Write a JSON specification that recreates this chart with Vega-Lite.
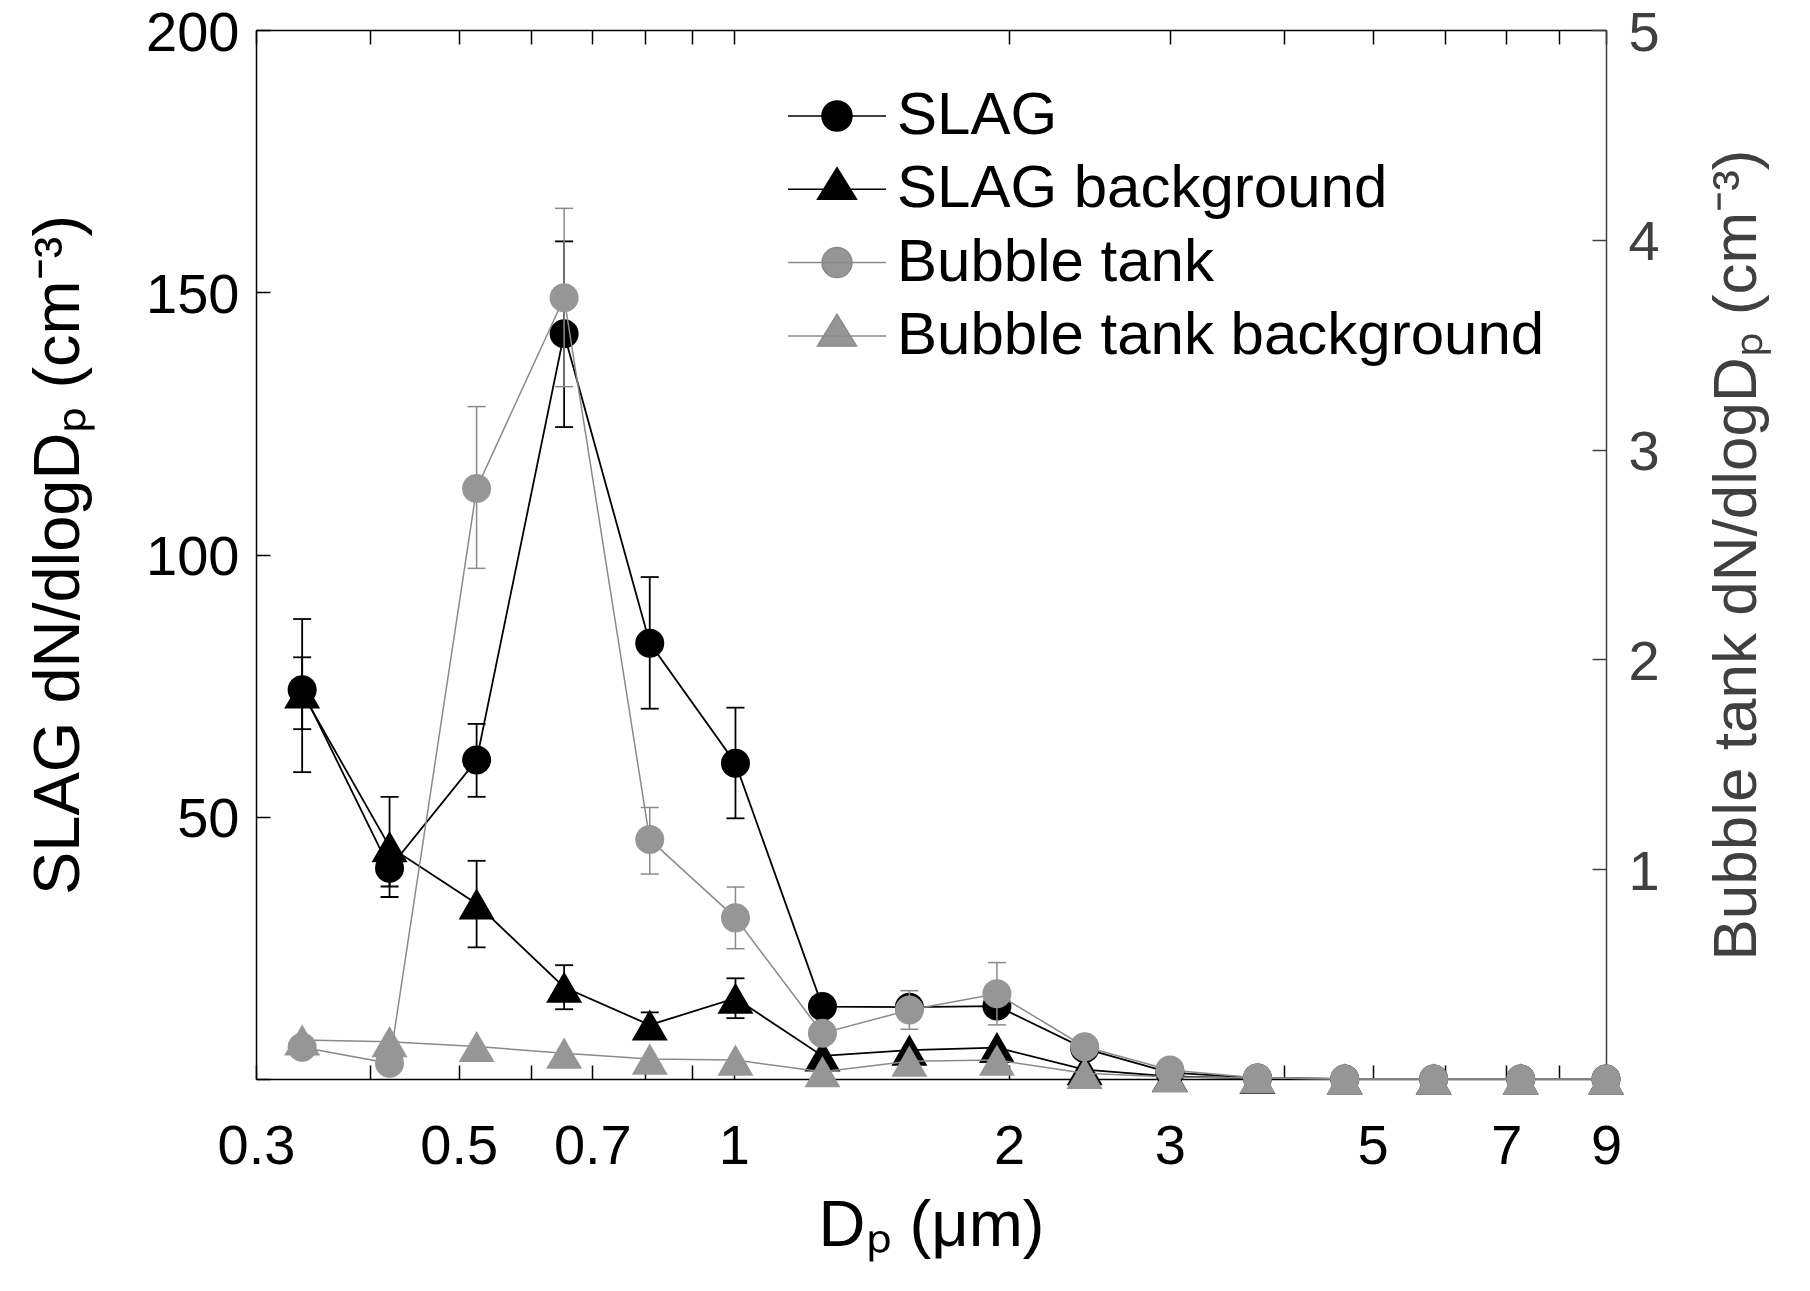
{
  "$schema": "https://vega.github.io/schema/vega-lite/v6.json",
  "width": 1350,
  "height": 1049,
  "autosize": {"type": "none"},
  "padding": {"left": 256, "top": 30, "right": 204, "bottom": 212},
  "background": "white",
  "config": {
    "view": {"stroke": null},
    "font": "Liberation Sans",
    "axis": {"labelFont": "Liberation Sans", "titleFont": "Liberation Sans", "grid": false}
  },
  "data": {
    "values": [
      {"s": "SLAG", "x": 0.337, "v": 74.2, "lo": 58.5, "hi": 87.7},
      {"s": "SLAG", "x": 0.42, "v": 40.2, "lo": 36.7, "hi": 43.7},
      {"s": "SLAG", "x": 0.523, "v": 60.8, "lo": 53.8, "hi": 67.7},
      {"s": "SLAG", "x": 0.652, "v": 142.1, "lo": 124.3, "hi": 159.7},
      {"s": "SLAG", "x": 0.809, "v": 83.1, "lo": 70.6, "hi": 95.7},
      {"s": "SLAG", "x": 1.004, "v": 60.2, "lo": 49.7, "hi": 70.8},
      {"s": "SLAG", "x": 1.25, "v": 13.8},
      {"s": "SLAG", "x": 1.556, "v": 13.7},
      {"s": "SLAG", "x": 1.94, "v": 13.9},
      {"s": "SLAG", "x": 2.42, "v": 5.8},
      {"s": "SLAG", "x": 3.0, "v": 1.2},
      {"s": "SLAG", "x": 3.74, "v": 0.2},
      {"s": "SLAG", "x": 4.66, "v": 0},
      {"s": "SLAG", "x": 5.83, "v": 0},
      {"s": "SLAG", "x": 7.26, "v": 0},
      {"s": "SLAG", "x": 9.0, "v": 0},
      {"s": "SLAG background", "x": 0.337, "v": 73.6, "lo": 66.7, "hi": 80.4},
      {"s": "SLAG background", "x": 0.42, "v": 44.3, "lo": 34.7, "hi": 53.8},
      {"s": "SLAG background", "x": 0.523, "v": 33.4, "lo": 25.1, "hi": 41.6},
      {"s": "SLAG background", "x": 0.652, "v": 17.5, "lo": 13.3, "hi": 21.7},
      {"s": "SLAG background", "x": 0.809, "v": 10.3, "lo": 7.8, "hi": 12.7},
      {"s": "SLAG background", "x": 1.004, "v": 15.4, "lo": 11.6, "hi": 19.2},
      {"s": "SLAG background", "x": 1.25, "v": 4.4},
      {"s": "SLAG background", "x": 1.556, "v": 5.5},
      {"s": "SLAG background", "x": 1.94, "v": 6.0},
      {"s": "SLAG background", "x": 2.42, "v": 1.8},
      {"s": "SLAG background", "x": 3.0, "v": 0.5},
      {"s": "SLAG background", "x": 3.74, "v": 0.1},
      {"s": "SLAG background", "x": 4.66, "v": 0},
      {"s": "SLAG background", "x": 5.83, "v": 0},
      {"s": "SLAG background", "x": 7.26, "v": 0},
      {"s": "SLAG background", "x": 9.0, "v": 0},
      {"s": "Bubble tank", "x": 0.337, "v": 0.151},
      {"s": "Bubble tank", "x": 0.42, "v": 0.075},
      {"s": "Bubble tank", "x": 0.523, "v": 2.815, "lo": 2.434, "hi": 3.205},
      {"s": "Bubble tank", "x": 0.652, "v": 3.724, "lo": 3.3, "hi": 4.15},
      {"s": "Bubble tank", "x": 0.809, "v": 1.141, "lo": 0.977, "hi": 1.294},
      {"s": "Bubble tank", "x": 1.004, "v": 0.768, "lo": 0.621, "hi": 0.915},
      {"s": "Bubble tank", "x": 1.25, "v": 0.218},
      {"s": "Bubble tank", "x": 1.556, "v": 0.329, "lo": 0.237, "hi": 0.421},
      {"s": "Bubble tank", "x": 1.94, "v": 0.406, "lo": 0.258, "hi": 0.555},
      {"s": "Bubble tank", "x": 2.42, "v": 0.154},
      {"s": "Bubble tank", "x": 3.0, "v": 0.043},
      {"s": "Bubble tank", "x": 3.74, "v": 0.005},
      {"s": "Bubble tank", "x": 4.66, "v": 0},
      {"s": "Bubble tank", "x": 5.83, "v": 0},
      {"s": "Bubble tank", "x": 7.26, "v": 0},
      {"s": "Bubble tank", "x": 9.0, "v": 0},
      {"s": "Bubble tank background", "x": 0.337, "v": 0.186},
      {"s": "Bubble tank background", "x": 0.42, "v": 0.178},
      {"s": "Bubble tank background", "x": 0.523, "v": 0.155},
      {"s": "Bubble tank background", "x": 0.652, "v": 0.123},
      {"s": "Bubble tank background", "x": 0.809, "v": 0.095},
      {"s": "Bubble tank background", "x": 1.004, "v": 0.09},
      {"s": "Bubble tank background", "x": 1.25, "v": 0.035},
      {"s": "Bubble tank background", "x": 1.556, "v": 0.085},
      {"s": "Bubble tank background", "x": 1.94, "v": 0.09},
      {"s": "Bubble tank background", "x": 2.42, "v": 0.027},
      {"s": "Bubble tank background", "x": 3.0, "v": 0.01},
      {"s": "Bubble tank background", "x": 3.74, "v": 0.005},
      {"s": "Bubble tank background", "x": 4.66, "v": 0},
      {"s": "Bubble tank background", "x": 5.83, "v": 0},
      {"s": "Bubble tank background", "x": 7.26, "v": 0},
      {"s": "Bubble tank background", "x": 9.0, "v": 0}
    ]
  },
  "layer": [
    {
      "encoding": {
        "x": {
          "field": "x", "type": "quantitative",
          "scale": {"type": "log", "domain": [0.3, 9], "nice": false, "zero": false},
          "axis": {
            "orient": "bottom",
            "values": [0.3, 0.4, 0.5, 0.6, 0.7, 0.8, 0.9, 1, 2, 3, 4, 5, 6, 7, 8, 9],
            "labelExpr": "indexof([0.3,0.5,0.7,1,2,3,5,7,9], datum.value) >= 0 ? format(datum.value, '~g') : ''",
            "labelFontSize": 56, "labelPadding": 54, "labelFlush": false, "labelOverlap": false, "labelColor": "black",
            "tickSize": -14, "tickWidth": 1.5, "tickColor": "black",
            "domainColor": "black", "domainWidth": 1.5, "grid": false,
            "title": "Dₚ (μm)", "titleFontSize": 65, "titleFontWeight": "normal", "titleColor": "black",
            "titleX": 675, "titleY": 166, "titleBaseline": "alphabetic", "titleAlign": "center"
          }
        }
      },
      "layer": [
        {
          "transform": [{"filter": "datum.s == 'SLAG background'"}],
          "mark": {"type": "line", "color": "black", "strokeWidth": 1.8},
          "encoding": {
            "y": {
              "field": "v", "type": "quantitative",
              "scale": {"domain": [0, 200], "nice": false, "zero": false},
              "axis": {
                "orient": "left", "values": [0, 50, 100, 150, 200],
                "labelExpr": "datum.value == 0 ? '' : datum.label",
                "labelFontSize": 56, "labelPadding": 31, "labelOffset": 3, "labelColor": "black",
                "tickSize": -14, "tickWidth": 1.5, "tickColor": "black",
                "domainColor": "black", "domainWidth": 1.5, "grid": false,
                "title": "SLAG dN/dlogDₚ (cm⁻³)", "titleFontSize": 65, "titleFontWeight": "normal", "titleColor": "black",
                "titleX": -178, "titleY": 524.5, "titleAngle": -90, "titleBaseline": "alphabetic", "titleAlign": "center"
              }
            }
          }
        },
        {
          "transform": [{"filter": "isValid(datum.lo) && (datum.s == 'SLAG' || datum.s == 'SLAG background')"}],
          "mark": {"type": "rule", "color": "black", "strokeWidth": 1.8},
          "encoding": {
            "y": {"field": "lo", "type": "quantitative", "scale": {"domain": [0, 200], "nice": false, "zero": false}, "title": "SLAG dN/dlogDₚ (cm⁻³)"},
            "y2": {"field": "hi"}
          }
        },
        {
          "transform": [{"filter": "isValid(datum.lo) && (datum.s == 'SLAG' || datum.s == 'SLAG background')"}],
          "mark": {"type": "tick", "orient": "horizontal", "color": "black", "size": 18, "thickness": 1.8, "opacity": 1},
          "encoding": {
            "y": {"field": "lo", "type": "quantitative", "scale": {"domain": [0, 200], "nice": false, "zero": false}, "title": "SLAG dN/dlogDₚ (cm⁻³)"}
          }
        },
        {
          "transform": [{"filter": "isValid(datum.hi) && (datum.s == 'SLAG' || datum.s == 'SLAG background')"}],
          "mark": {"type": "tick", "orient": "horizontal", "color": "black", "size": 18, "thickness": 1.8, "opacity": 1},
          "encoding": {
            "y": {"field": "hi", "type": "quantitative", "scale": {"domain": [0, 200], "nice": false, "zero": false}, "title": "SLAG dN/dlogDₚ (cm⁻³)"}
          }
        },
        {
          "transform": [{"filter": "datum.s == 'SLAG'"}],
          "mark": {"type": "line", "color": "black", "strokeWidth": 1.8},
          "encoding": {
            "y": {"field": "v", "type": "quantitative", "scale": {"domain": [0, 200], "nice": false, "zero": false}, "title": "SLAG dN/dlogDₚ (cm⁻³)"}
          }
        },
        {
          "transform": [{"filter": "datum.s == 'SLAG'"}],
          "mark": {"type": "point", "shape": "circle", "filled": true, "size": 841, "color": "black", "opacity": 1},
          "encoding": {
            "y": {"field": "v", "type": "quantitative", "scale": {"domain": [0, 200], "nice": false, "zero": false}, "title": "SLAG dN/dlogDₚ (cm⁻³)"}
          }
        },
        {
          "transform": [{"filter": "datum.s == 'SLAG background'"}],
          "mark": {"type": "point", "shape": "triangle-up", "filled": true, "size": 1296, "color": "black", "opacity": 1},
          "encoding": {
            "y": {"field": "v", "type": "quantitative", "scale": {"domain": [0, 200], "nice": false, "zero": false}, "title": "SLAG dN/dlogDₚ (cm⁻³)"}
          }
        },
        {
          "mark": {"type": "point", "filled": true, "size": 900, "opacity": 0, "strokeWidth": 1.5},
          "encoding": {
            "y": {"field": "v", "type": "quantitative", "scale": {"domain": [0, 200], "nice": false, "zero": false}, "title": "SLAG dN/dlogDₚ (cm⁻³)"},
            "shape": {
              "field": "s", "type": "nominal",
              "scale": {
                "domain": ["SLAG", "SLAG background", "Bubble tank", "Bubble tank background"],
                "range": [
                  "M-3.27,0H3.27M1,0A1,1,0,1,1,-1,0A1,1,0,1,1,1,0Z",
                  "M-3.27,0H3.27M0,-1.44L1.3,0.67L-1.3,0.67Z",
                  "M-3.27,0H3.27M1,0A1,1,0,1,1,-1,0A1,1,0,1,1,1,0Z",
                  "M-3.27,0H3.27M0,-1.44L1.3,0.67L-1.3,0.67Z"
                ]
              },
              "legend": {"title": null, "orient": "none", "legendX": 551, "legendY": 56, "labelFontSize": 60, "labelFont": "Liberation Sans", "labelColor": "black", "symbolSize": 900, "symbolStrokeWidth": 1.5, "labelOffset": 30, "rowPadding": 13.3, "padding": 0, "symbolOpacity": 1, "labelLimit": 1000}
            },
            "fill": {
              "field": "s", "type": "nominal",
              "scale": {"domain": ["SLAG", "SLAG background", "Bubble tank", "Bubble tank background"], "range": ["#000000", "#000000", "#969696", "#969696"]},
              "legend": {"title": null, "orient": "none", "legendX": 551, "legendY": 56, "labelFontSize": 60, "labelFont": "Liberation Sans", "labelColor": "black", "symbolSize": 900, "symbolStrokeWidth": 1.5, "labelOffset": 30, "rowPadding": 13.3, "padding": 0, "symbolOpacity": 1, "labelLimit": 1000}
            },
            "stroke": {
              "field": "s", "type": "nominal",
              "scale": {"domain": ["SLAG", "SLAG background", "Bubble tank", "Bubble tank background"], "range": ["#000000", "#000000", "#8a8a8a", "#8a8a8a"]},
              "legend": {"title": null, "orient": "none", "legendX": 551, "legendY": 56, "labelFontSize": 60, "labelFont": "Liberation Sans", "labelColor": "black", "symbolSize": 900, "symbolStrokeWidth": 1.5, "labelOffset": 30, "rowPadding": 13.3, "padding": 0, "symbolOpacity": 1, "labelLimit": 1000}
            }
          }
        }
      ]
    },
    {
      "encoding": {
        "x": {
          "field": "x", "type": "quantitative",
          "scale": {"type": "log", "domain": [0.3, 9], "nice": false, "zero": false},
          "axis": {
            "orient": "top",
            "values": [0.3, 0.4, 0.5, 0.6, 0.7, 0.8, 0.9, 1, 2, 3, 4, 5, 6, 7, 8, 9],
            "labels": false, "tickSize": -14, "tickWidth": 1.5, "tickColor": "black",
            "domainColor": "black", "domainWidth": 1.5, "grid": false, "title": null
          }
        }
      },
      "layer": [
        {
          "transform": [{"filter": "datum.s == 'Bubble tank'"}],
          "mark": {"type": "line", "color": "#8a8a8a", "strokeWidth": 1.5},
          "encoding": {
            "y": {
              "field": "v", "type": "quantitative",
              "scale": {"domain": [0, 5], "nice": false, "zero": false},
              "axis": {
                "orient": "right", "values": [0, 1, 2, 3, 4, 5],
                "labelExpr": "datum.value == 0 ? '' : format(datum.value, 'd')",
                "labelFontSize": 56, "labelPadding": 36, "labelOffset": 3, "labelColor": "#404040",
                "tickSize": -14, "tickWidth": 1.5, "tickColor": "#404040",
                "domainColor": "#404040", "domainWidth": 1.5, "grid": false,
                "title": "Bubble tank dN/dlogDₚ (cm⁻³)", "titleFontSize": 62, "titleFontWeight": "normal", "titleColor": "#404040",
                "titleX": 149, "titleY": 524.5, "titleAngle": -90, "titleBaseline": "alphabetic", "titleAlign": "center"
              }
            }
          }
        },
        {
          "transform": [{"filter": "isValid(datum.lo) && datum.s == 'Bubble tank'"}],
          "mark": {"type": "rule", "color": "#8a8a8a", "strokeWidth": 1.5},
          "encoding": {
            "y": {"field": "lo", "type": "quantitative", "scale": {"domain": [0, 5], "nice": false, "zero": false}, "title": "Bubble tank dN/dlogDₚ (cm⁻³)"},
            "y2": {"field": "hi"}
          }
        },
        {
          "transform": [{"filter": "isValid(datum.lo) && datum.s == 'Bubble tank'"}],
          "mark": {"type": "tick", "orient": "horizontal", "color": "#8a8a8a", "size": 18, "thickness": 1.5, "opacity": 1},
          "encoding": {
            "y": {"field": "lo", "type": "quantitative", "scale": {"domain": [0, 5], "nice": false, "zero": false}, "title": "Bubble tank dN/dlogDₚ (cm⁻³)"}
          }
        },
        {
          "transform": [{"filter": "isValid(datum.hi) && datum.s == 'Bubble tank'"}],
          "mark": {"type": "tick", "orient": "horizontal", "color": "#8a8a8a", "size": 18, "thickness": 1.5, "opacity": 1},
          "encoding": {
            "y": {"field": "hi", "type": "quantitative", "scale": {"domain": [0, 5], "nice": false, "zero": false}, "title": "Bubble tank dN/dlogDₚ (cm⁻³)"}
          }
        },
        {
          "transform": [{"filter": "datum.s == 'Bubble tank background'"}],
          "mark": {"type": "line", "color": "#8a8a8a", "strokeWidth": 1.5},
          "encoding": {
            "y": {"field": "v", "type": "quantitative", "scale": {"domain": [0, 5], "nice": false, "zero": false}, "title": "Bubble tank dN/dlogDₚ (cm⁻³)"}
          }
        },
        {
          "transform": [{"filter": "datum.s == 'Bubble tank'"}],
          "mark": {"type": "point", "shape": "circle", "filled": true, "size": 841, "color": "#969696", "opacity": 1},
          "encoding": {
            "y": {"field": "v", "type": "quantitative", "scale": {"domain": [0, 5], "nice": false, "zero": false}, "title": "Bubble tank dN/dlogDₚ (cm⁻³)"}
          }
        },
        {
          "transform": [{"filter": "datum.s == 'Bubble tank background'"}],
          "mark": {"type": "point", "shape": "triangle-up", "filled": true, "size": 1296, "color": "#969696", "opacity": 1},
          "encoding": {
            "y": {"field": "v", "type": "quantitative", "scale": {"domain": [0, 5], "nice": false, "zero": false}, "title": "Bubble tank dN/dlogDₚ (cm⁻³)"}
          }
        }
      ]
    }
  ],
  "resolve": {"scale": {"y": "independent"}}
}
